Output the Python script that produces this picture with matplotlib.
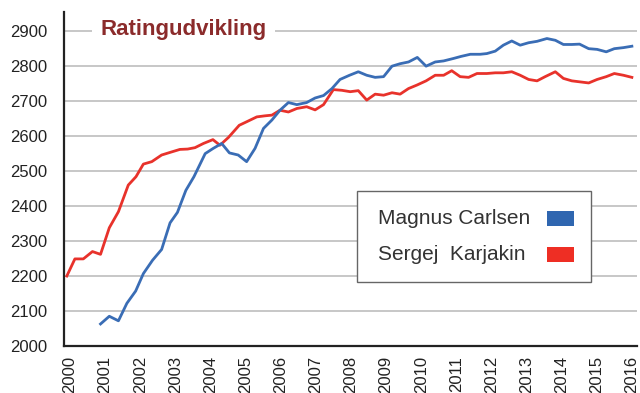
import matplotlib.pyplot as plt
from matplotlib.patches import Rectangle

plt.rcParams['font.family'] = ['Liberation Sans', 'DejaVu Sans']

# Ratinglister (år som decimaltal, Elo-tal)
carlsen_t = [2000.87, 2001.12, 2001.38, 2001.62, 2001.87, 2002.09, 2002.35, 2002.61,
             2002.85, 2003.06, 2003.30, 2003.53, 2003.85, 2004.08, 2004.32, 2004.54,
             2004.79, 2005.03, 2005.27, 2005.51, 2005.75, 2005.98, 2006.22, 2006.46,
             2006.74, 2006.98, 2007.22, 2007.46, 2007.69, 2007.96, 2008.21, 2008.45,
             2008.69, 2008.93, 2009.17, 2009.40, 2009.64, 2009.89, 2010.14, 2010.40,
             2010.64, 2010.92, 2011.14, 2011.40, 2011.68, 2011.87, 2012.11, 2012.34,
             2012.58, 2012.82, 2013.06, 2013.30, 2013.58, 2013.82, 2014.05, 2014.29,
             2014.51, 2014.77, 2015.01, 2015.27, 2015.50, 2015.76, 2016.00]
carlsen_elo = [2063, 2085, 2072, 2122, 2157, 2207, 2245, 2276,
               2352, 2382, 2445, 2484, 2550, 2565, 2579, 2552,
               2546, 2527, 2565, 2622, 2646, 2674, 2696, 2690,
               2696, 2709, 2716, 2736, 2762, 2774, 2784, 2774,
               2768, 2770, 2800, 2807, 2812, 2825, 2800, 2812,
               2815, 2822, 2828, 2834, 2834, 2836, 2843, 2860,
               2872, 2860, 2867, 2871, 2879, 2874, 2862, 2862,
               2863, 2850, 2848, 2841, 2850, 2853, 2857]

karjakin_t = [1999.91, 2000.14, 2000.38, 2000.64, 2000.87, 2001.12, 2001.38, 2001.66,
              2001.88, 2002.09, 2002.33, 2002.61, 2002.90, 2003.13, 2003.35, 2003.56,
              2003.80, 2004.07, 2004.27, 2004.51, 2004.82, 2005.03, 2005.32, 2005.55,
              2005.75, 2005.98, 2006.22, 2006.46, 2006.74, 2006.98, 2007.22, 2007.50,
              2007.74, 2007.98, 2008.21, 2008.45, 2008.69, 2008.93, 2009.17, 2009.40,
              2009.64, 2009.88, 2010.14, 2010.40, 2010.64, 2010.87, 2011.11, 2011.35,
              2011.59, 2011.87, 2012.11, 2012.34, 2012.58, 2012.82, 2013.06, 2013.30,
              2013.53, 2013.82, 2014.05, 2014.29, 2014.53, 2014.77, 2015.01, 2015.27,
              2015.50, 2015.76, 2016.00]
karjakin_elo = [2200, 2249, 2249, 2270, 2262, 2338, 2384, 2460,
                2484, 2520, 2527, 2546, 2555, 2562, 2563, 2567,
                2579, 2590, 2574, 2596, 2631, 2641, 2655, 2658,
                2660, 2674, 2669, 2679, 2684, 2675, 2690, 2733,
                2731, 2727, 2730, 2703, 2720, 2717, 2724, 2720,
                2736, 2746, 2758, 2774, 2774, 2787, 2770, 2768,
                2779, 2779, 2781, 2781, 2784, 2774, 2762, 2758,
                2770, 2784, 2765, 2758, 2755, 2752, 2762, 2770,
                2779, 2774, 2768]

players = ['Magnus Carlsen', 'Sergej  Karjakin']
years = list(range(2000, 2017))
elo_ticks = list(range(2000, 3000, 100))

BLUE = '#3a6db5'
RED = '#e8322b'
SWATCH = ['#2f66b0', '#ee2e24']
TITLE_RED = '#8b2b2b'

fig = plt.figure(figsize=(6.4, 3.93), dpi=100)
ax = fig.add_axes([0.1, 0.1196, 0.895, 0.85])

ax.plot(karjakin_t, karjakin_elo, color=RED, lw=2.0, solid_joinstyle='round', zorder=3)
ax.plot(carlsen_t, carlsen_elo, color=BLUE, lw=2.0, solid_joinstyle='round', zorder=3)

ax.set_xlim(1999.83, 2016.14)
ax.set_ylim(2000, 2955)
ax.set_xticks(years)
ax.set_xticklabels([str(y) for y in years], rotation=90)
ax.set_yticks(elo_ticks)
ax.tick_params(axis='both', length=0, labelsize=12, labelcolor='#222222')
ax.tick_params(axis='y', pad=12)
ax.tick_params(axis='x', pad=7)

ax.grid(axis='y', color='#bdbdbd', lw=1.2)
ax.set_axisbelow(True)
for side in ('top', 'right'):
    ax.spines[side].set_visible(False)
for side in ('left', 'bottom'):
    ax.spines[side].set_color('#222222')
    ax.spines[side].set_linewidth(1.6)

ax.text(0.063, 0.946, 'Ratingudvikling', transform=ax.transAxes,
        fontsize=16, fontweight='bold', color=TITLE_RED, va='center', ha='left',
        bbox=dict(facecolor='white', edgecolor='none', pad=6), zorder=4)

# legende: tekst til venstre, farvefelt til højre
ax.add_patch(Rectangle((0.511, 0.192), 0.409, 0.272, transform=ax.transAxes,
                       facecolor='white', edgecolor='#666666', lw=1.0,
                       zorder=5, clip_on=False))
for i, (name, col) in enumerate(zip(players, SWATCH)):
    yc = 0.381 - i * 0.107
    ax.text(0.548, yc, name, transform=ax.transAxes, fontsize=15,
            color='#333333', va='center', ha='left', zorder=6)
    ax.add_patch(Rectangle((0.843, yc - 0.0225), 0.047, 0.045,
                           transform=ax.transAxes, facecolor=col,
                           edgecolor='none', zorder=6, clip_on=False))

fig.savefig('out.png', dpi=100)
